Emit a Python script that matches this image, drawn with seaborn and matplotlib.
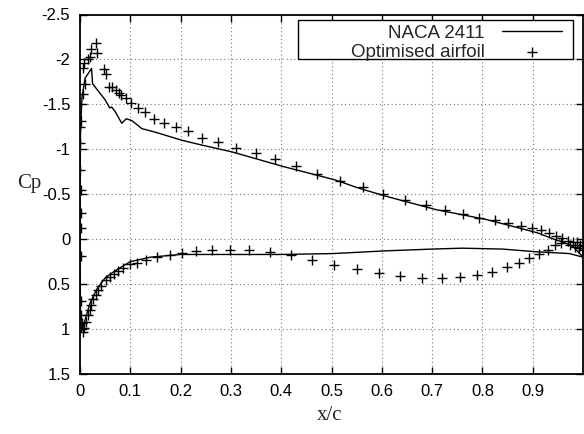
import matplotlib
matplotlib.use("Agg")
import matplotlib.pyplot as plt
from matplotlib.patches import Rectangle
import seaborn as sns
import numpy as np

# NACA 2411 (line), ordered TE upper -> LE -> TE lower
naca_x = [1.0, 0.98, 0.96, 0.947, 0.91, 0.807, 0.707, 0.64, 0.607, 0.553, 0.507,
          0.403, 0.303, 0.24, 0.203, 0.15, 0.123, 0.103, 0.092, 0.083, 0.07,
          0.063, 0.059, 0.05, 0.025, 0.023, 0.01, 0.004, 0.001, 0.0, 0.0, 0.001,
          0.003, 0.01, 0.02, 0.033, 0.05, 0.073, 0.1, 0.14, 0.2, 0.3, 0.4, 0.503,
          0.607, 0.7, 0.76, 0.84, 0.907, 0.973, 1.0]
naca_cp = [0.20, 0.08, 0.03, 0.01, -0.07, -0.22, -0.33, -0.43, -0.48, -0.57, -0.66,
           -0.81, -0.97, -1.05, -1.10, -1.19, -1.23, -1.32, -1.34, -1.29, -1.42,
           -1.47, -1.46, -1.55, -1.73, -1.90, -1.79, -1.58, -1.20, -0.50, 0.30, 0.80,
           1.03, 0.90, 0.71, 0.56, 0.43, 0.34, 0.25, 0.20, 0.17, 0.17, 0.17, 0.16,
           0.13, 0.11, 0.10, 0.11, 0.14, 0.16, 0.20]

# Optimised airfoil (points)
opt_x = [1.0, 0.995, 0.988, 0.98, 0.97, 0.959, 0.947, 0.933, 0.917, 0.898, 0.876,
         0.851, 0.825, 0.793, 0.761, 0.725, 0.688, 0.647, 0.603, 0.562, 0.517,
         0.472, 0.429, 0.388, 0.349, 0.31, 0.275, 0.243, 0.215, 0.19, 0.167,
         0.147, 0.13, 0.115, 0.102, 0.091, 0.082, 0.077, 0.072, 0.063, 0.057,
         0.052, 0.048, 0.032, 0.022, 0.033, 0.019, 0.015, 0.007, 0.005, 0.009,
         0.005, 0.001, 0.0, 0.0, 0.0, 0.001, 0.001, 0.001, 0.001, 0.001, 0.002,
         0.004, 0.005, 0.007, 0.012, 0.015, 0.019, 0.022, 0.025, 0.031, 0.035,
         0.042, 0.051, 0.059, 0.067, 0.075, 0.085, 0.1, 0.113, 0.132, 0.153,
         0.178, 0.202, 0.231, 0.263, 0.298, 0.335, 0.377, 0.419, 0.462, 0.505,
         0.551, 0.595, 0.637, 0.68, 0.719, 0.755, 0.79, 0.82, 0.848, 0.872,
         0.893, 0.913, 0.93, 0.945, 0.957, 0.975, 0.985, 0.992, 1.0]
opt_cp = [0.08, 0.06, 0.03, 0.03, 0.02, -0.01, -0.04, -0.07, -0.10, -0.12, -0.15,
          -0.18, -0.21, -0.24, -0.28, -0.33, -0.38, -0.44, -0.50, -0.58, -0.65,
          -0.73, -0.81, -0.89, -0.96, -1.02, -1.08, -1.13, -1.20, -1.25, -1.29,
          -1.34, -1.41, -1.46, -1.51, -1.57, -1.60, -1.63, -1.66, -1.69, -1.69,
          -1.84, -1.89, -2.18, -2.12, -2.07, -2.03, -2.00, -1.96, -1.90, -1.73,
          -1.62, -1.31, -1.25, -1.07, -0.77, -0.55, -0.29, -0.13, 0.19, 0.69, 0.84,
          0.93, 1.03, 0.99, 0.92, 0.84, 0.79, 0.73, 0.67, 0.62, 0.56,
          0.52, 0.45, 0.42, 0.39, 0.35, 0.32, 0.28, 0.26, 0.23, 0.20,
          0.18, 0.15, 0.13, 0.12, 0.12, 0.12, 0.14, 0.18, 0.23, 0.29,
          0.33, 0.38, 0.41, 0.43, 0.43, 0.42, 0.40, 0.36, 0.31, 0.27,
          0.21, 0.16, 0.12, 0.07, 0.04, 0.06, 0.09, 0.10, 0.12]

x_ticks = [0, 0.1, 0.2, 0.3, 0.4, 0.5, 0.6, 0.7, 0.8, 0.9]
x_labels = ["0", "0.1", "0.2", "0.3", "0.4", "0.5", "0.6", "0.7", "0.8", "0.9"]
y_ticks = [-2.5, -2, -1.5, -1, -0.5, 0, 0.5, 1, 1.5]
y_labels = ["-2.5", "-2", "-1.5", "-1", "-0.5", "0", "0.5", "1", "1.5"]

sns.set_style("ticks")
plt.rcParams['font.family'] = ['Liberation Sans', 'DejaVu Sans']
plt.rcParams['axes.unicode_minus'] = False

fig = plt.figure(figsize=(5.84, 4.34), dpi=100)
ax = fig.add_axes([80/584, 60/434, 503/584, 359.5/434])

sns.lineplot(x=naca_x, y=naca_cp, sort=False, estimator=None, color='black',
             linewidth=1.0, ax=ax, label='NACA 2411')
sns.scatterplot(x=opt_x, y=opt_cp, marker='+', color='black', s=50,
                linewidth=1.0, ax=ax, label='Optimised airfoil', zorder=3)

ax.set_xlim(0, 1.0)
ax.set_ylim(1.5, -2.5)
ax.set_xticks(x_ticks)
ax.set_xticklabels(x_labels)
ax.set_yticks(y_ticks)
ax.set_yticklabels(y_labels)
ax.grid(True, color='#777777', linestyle=(0, (1, 2.5)), linewidth=0.8)
ax.tick_params(direction='in', length=5, width=1, top=True, right=True,
               labelsize=12, pad=7, colors='black')
for s in ax.spines.values():
    s.set_linewidth(1.3)
    s.set_color('black')
    s.set_visible(True)

ax.set_xlabel('x/c', fontsize=15, family=['Liberation Serif'])
ax.xaxis.set_label_coords(0.497, -0.09)
ax.set_ylabel('Cp', fontsize=15, family=['Liberation Serif'], rotation=0,
              ha='center', va='center')
ax.yaxis.set_label_coords(-0.10, 0.531)

# legend box (gnuplot-style wide key frame)
ax.add_patch(Rectangle((0.4334, 0.876), 0.9801 - 0.4334, 0.9847 - 0.876,
                       transform=ax.transAxes, facecolor='white',
                       edgecolor='black', linewidth=1.0, zorder=4))
leg = ax.legend(loc='upper right', bbox_to_anchor=(0.958, 0.972), borderaxespad=0,
                markerfirst=False, frameon=False, fontsize=13.5, handlelength=3.2,
                handletextpad=0.9, labelspacing=0.1, borderpad=0.0)
leg.set_zorder(5)

fig.savefig('out.png', dpi=100)
